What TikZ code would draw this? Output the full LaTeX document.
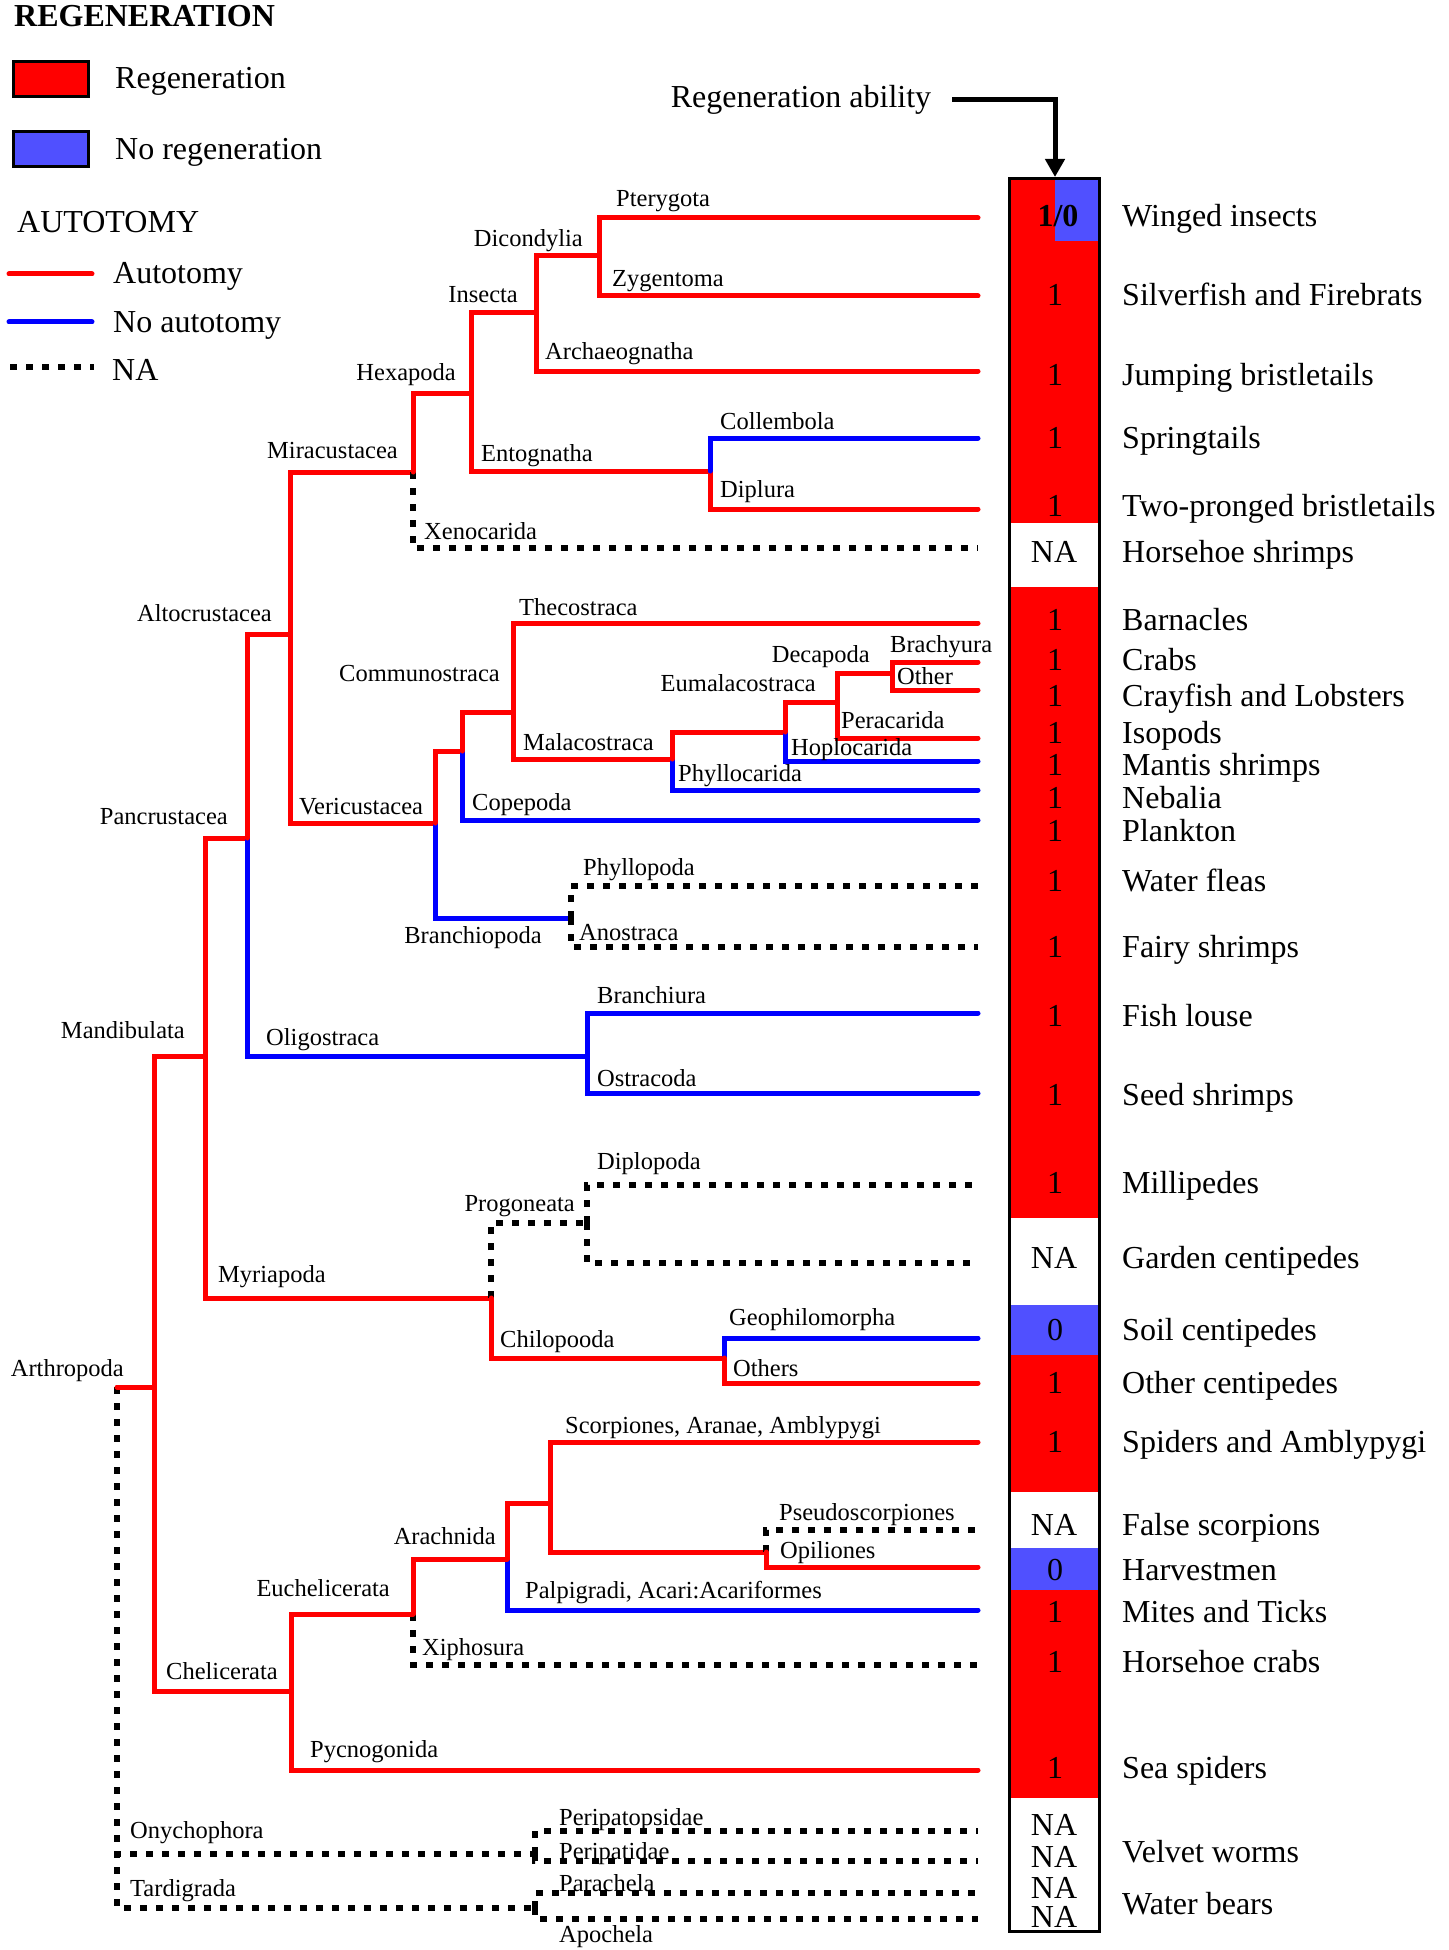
\documentclass[tikz,border=0pt]{standalone}
\usepackage{fontspec}
\setmainfont{Liberation Serif}
\usepackage{tikz}
\usetikzlibrary{arrows.meta}
\definecolor{autred}{RGB}{255,0,0}
\definecolor{autblue}{RGB}{0,0,255}
\definecolor{regblue}{RGB}{80,80,255}
\tikzstyle{redbr}=[draw=autred,line width=5pt,line cap=round]
\tikzstyle{bluebr}=[draw=autblue,line width=5pt,line cap=round]
\tikzstyle{nabr}=[draw=black,line width=5.5pt,dash pattern=on 7pt off 9pt]
\tikzstyle{taxon}=[inner sep=0pt,font=\fontsize{24.5}{29}\selectfont]
\tikzstyle{common}=[inner sep=0pt,anchor=base west,font=\fontsize{32}{38}\selectfont]
\tikzstyle{val}=[inner sep=0pt,anchor=base,font=\fontsize{32}{38}\selectfont]
\tikzstyle{legbox}=[draw=black,line width=3pt,minimum width=75pt,minimum height=35pt,inner sep=0pt]

\begin{document}
\begin{tikzpicture}[x=1pt,y=-1pt]
\useasboundingbox (0,0) rectangle (1448,1950);

% legend
\node[inner sep=0pt,anchor=base west,font=\fontsize{32}{38}\selectfont\bfseries] (regtitle) at (14,27) {REGENERATION};
\node[legbox,fill=autred] (regbox) at (51,79) {};
\node[common] (regtxt) at (115,89) {Regeneration};
\node[legbox,fill=regblue] (noregbox) at (51,149.5) {};
\node[common] (noregtxt) at (115,160) {No regeneration};
\node[common] (auttitle) at (17,233) {AUTOTOMY};
\coordinate (autA) at (9,274); \coordinate (autB) at (92,274);
\coordinate (noautA) at (9,322); \coordinate (noautB) at (92,322);
\coordinate (naA) at (10,367); \coordinate (naB) at (94,367);
\draw[redbr] (autA) -- (autB);
\draw[bluebr] (noautA) -- (noautB);
\draw[nabr] (naA) -- (naB);
\node[common] (auttxt) at (113,284) {Autotomy};
\node[common] (noauttxt) at (113,332) {No autotomy};
\node[common] (natxt) at (112,380) {NA};

% regeneration column
\fill[autred] (1009,178) rectangle (1100,523);
\fill[regblue] (1055,178) rectangle (1100,241);
\fill[autred] (1009,587) rectangle (1100,1218);
\fill[regblue] (1009,1305) rectangle (1100,1355);
\fill[autred] (1009,1355) rectangle (1100,1492);
\fill[regblue] (1009,1548) rectangle (1100,1590);
\fill[autred] (1009,1590) rectangle (1100,1798);
\draw[line width=3pt] (1009.5,178.5) rectangle (1099.5,1931.5);

\node[common,anchor=base] (ability) at (801,108) {Regeneration ability};
\coordinate (arrstart) at (952,100);
\coordinate (coltop) at (1055,177);
\draw[line width=5pt,-{Triangle[length=18pt,width=19pt]}] (arrstart) -| (coltop);

% tree junctions
\coordinate (root) at (117,1387);
\coordinate (arth) at (154,1387);
\coordinate (mand) at (205,1056);
\coordinate (panc) at (247,838);
\coordinate (alto) at (290,634);
\coordinate (mira) at (413,472);
\coordinate (hexa) at (471,393);
\coordinate (insc) at (536,313);
\coordinate (dico) at (599,256);
\coordinate (ento) at (710,471);
\coordinate (veri) at (435,823);
\coordinate (comm) at (462,751);
\coordinate (thmal) at (513,712);
\coordinate (mala) at (672,759);
\coordinate (euma) at (785,732);
\coordinate (deca) at (837,702);
\coordinate (brac) at (892,673);
\coordinate (brpo) at (571,918);
\coordinate (olig) at (587,1056);
\coordinate (myri) at (491,1298);
\coordinate (prog) at (587,1223);
\coordinate (chil) at (724,1358);
\coordinate (chel) at (291,1691);
\coordinate (euch) at (413,1614);
\coordinate (arac) at (507,1559);
\coordinate (scop) at (550,1503);
\coordinate (opgr) at (766,1552);
\coordinate (onyc) at (535,1854);
\coordinate (tard) at (535,1908);

% tree leaves
\coordinate (pter) at (978,218);
\coordinate (zyge) at (978,296);
\coordinate (arch) at (978,371);
\coordinate (coll) at (978,438);
\coordinate (dipl) at (978,509);
\coordinate (xeno) at (978,548);
\coordinate (theco) at (978,623);
\coordinate (brach) at (978,662);
\coordinate (other) at (978,690);
\coordinate (pera) at (978,738);
\coordinate (hoplo) at (978,761);
\coordinate (phylc) at (978,790);
\coordinate (cope) at (978,820);
\coordinate (phylp) at (978,886);
\coordinate (anos) at (978,947);
\coordinate (bchiu) at (978,1013);
\coordinate (ostr) at (978,1093);
\coordinate (diplo) at (978,1185);
\coordinate (diplob) at (978,1263);
\coordinate (geoph) at (978,1338);
\coordinate (others) at (978,1383);
\coordinate (scorp) at (978,1442);
\coordinate (pseu) at (978,1530);
\coordinate (opil) at (978,1567);
\coordinate (palp) at (978,1610);
\coordinate (xiph) at (978,1665);
\coordinate (pycn) at (978,1770);
\coordinate (peri1) at (978,1831);
\coordinate (peri2) at (978,1861);
\coordinate (para) at (978,1893);
\coordinate (apoc) at (978,1919);

% branches
\draw[nabr] (root) |- (onyc);
\draw[nabr] (root) |- (tard);
\draw[redbr] (root) -- (arth);
\draw[redbr] (arth) |- (mand);
\draw[redbr] (arth) |- (chel);
\draw[redbr] (mand) |- (panc);
\draw[redbr] (mand) |- (myri);
\draw[bluebr] (panc) |- (olig);
\draw[redbr] (panc) |- (alto);
\draw[redbr] (alto) |- (mira);
\draw[redbr] (alto) |- (veri);
\draw[nabr] (mira) |- (xeno);
\draw[redbr] (mira) |- (hexa);
\draw[redbr] (hexa) |- (insc);
\draw[redbr] (hexa) |- (ento);
\draw[redbr] (insc) |- (dico);
\draw[redbr] (insc) |- (arch);
\draw[redbr] (dico) |- (pter);
\draw[redbr] (dico) |- (zyge);
\draw[redbr] (ento) |- (dipl);
\draw[bluebr] (ento) |- (coll);
\draw[bluebr] (veri) |- (brpo);
\draw[redbr] (veri) |- (comm);
\draw[bluebr] (comm) |- (cope);
\draw[redbr] (comm) |- (thmal);
\draw[redbr] (thmal) |- (theco);
\draw[redbr] (thmal) |- (mala);
\draw[bluebr] (mala) |- (phylc);
\draw[redbr] (mala) |- (euma);
\draw[bluebr] (euma) |- (hoplo);
\draw[redbr] (euma) |- (deca);
\draw[redbr] (deca) |- (brac);
\draw[redbr] (deca) |- (pera);
\draw[redbr] (brac) |- (brach);
\draw[redbr] (brac) |- (other);
\draw[nabr] (brpo) |- (phylp);
\draw[nabr] (brpo) |- (anos);
\draw[bluebr] (olig) |- (bchiu);
\draw[bluebr] (olig) |- (ostr);
\draw[nabr] (myri) |- (prog);
\draw[redbr] (myri) |- (chil);
\draw[nabr] (prog) |- (diplo);
\draw[nabr] (prog) |- (diplob);
\draw[bluebr] (chil) |- (geoph);
\draw[redbr] (chil) |- (others);
\draw[redbr] (chel) |- (pycn);
\draw[nabr] (euch) |- (xiph);
\draw[redbr] (chel) |- (euch);
\draw[bluebr] (arac) |- (palp);
\draw[redbr] (euch) |- (arac);
\draw[redbr] (arac) |- (scop);
\draw[redbr] (scop) |- (scorp);
\draw[redbr] (scop) |- (opgr);
\draw[nabr] (opgr) |- (pseu);
\draw[redbr] (opgr) |- (opil);
\draw[nabr] (onyc) |- (peri1);
\draw[nabr] (onyc) |- (peri2);
\draw[nabr] (tard) |- (para);
\draw[nabr] (tard) |- (apoc);

% clade labels
\node[taxon,anchor=base west] (tpter) at (616,207) {Pterygota};
\node[taxon,anchor=base east] (tdico) at (583,247) {Dicondylia};
\node[taxon,anchor=base west] (tzyge) at (612,287) {Zygentoma};
\node[taxon,anchor=base east] (tinsc) at (518,303) {Insecta};
\node[taxon,anchor=base west] (tarch) at (545,359) {Archaeognatha};
\node[taxon,anchor=base east] (thexa) at (456,380) {Hexapoda};
\node[taxon,anchor=base west] (tcoll) at (720,429) {Collembola};
\node[taxon,anchor=base east] (tmira) at (398,458) {Miracustacea};
\node[taxon,anchor=base west] (tento) at (481,461) {Entognatha};
\node[taxon,anchor=base west] (tdipl) at (720,497) {Diplura};
\node[taxon,anchor=base west] (txeno) at (424,539) {Xenocarida};
\node[taxon,anchor=base east] (talto) at (272,621) {Altocrustacea};
\node[taxon,anchor=base west] (ttheco) at (519,615) {Thecostraca};
\node[taxon,anchor=base west] (tbrach) at (890,652) {Brachyura};
\node[taxon,anchor=base east] (tdeca) at (870,662) {Decapoda};
\node[taxon,anchor=base east] (tcomm) at (500,681) {Communostraca};
\node[taxon,anchor=base west] (tother) at (897,684) {Other};
\node[taxon,anchor=base east] (teuma) at (816,691) {Eumalacostraca};
\node[taxon,anchor=base west] (tpera) at (841,728) {Peracarida};
\node[taxon,anchor=base west] (tmala) at (523,750) {Malacostraca};
\node[taxon,anchor=base west] (thoplo) at (791,755) {Hoplocarida};
\node[taxon,anchor=base west] (tphylc) at (678,781) {Phyllocarida};
\node[taxon,anchor=base west] (tcope) at (472,810) {Copepoda};
\node[taxon,anchor=base west] (tveri) at (299,814) {Vericustacea};
\node[taxon,anchor=base east] (tpanc) at (228,824) {Pancrustacea};
\node[taxon,anchor=base west] (tphylp) at (583,875) {Phyllopoda};
\node[taxon,anchor=base west] (tanos) at (579,940) {Anostraca};
\node[taxon,anchor=base east] (tbrpo) at (542,943) {Branchiopoda};
\node[taxon,anchor=base west] (tbchiu) at (597,1003) {Branchiura};
\node[taxon,anchor=base east] (tmand) at (185,1038) {Mandibulata};
\node[taxon,anchor=base west] (tolig) at (266,1045) {Oligostraca};
\node[taxon,anchor=base west] (tostr) at (597,1086) {Ostracoda};
\node[taxon,anchor=base west] (tdiplo) at (597,1169) {Diplopoda};
\node[taxon,anchor=base east] (tprog) at (575,1211) {Progoneata};
\node[taxon,anchor=base west] (tmyri) at (218,1282) {Myriapoda};
\node[taxon,anchor=base west] (tgeoph) at (729,1325) {Geophilomorpha};
\node[taxon,anchor=base west] (tchil) at (500,1347) {Chilopooda};
\node[taxon,anchor=base east] (tarth) at (124,1376) {Arthropoda};
\node[taxon,anchor=base west] (tothers) at (733,1376) {Others};
\node[taxon,anchor=base west] (tscorp) at (565,1433) {Scorpiones, Aranae, Amblypygi};
\node[taxon,anchor=base west] (tpseu) at (779,1520) {Pseudoscorpiones};
\node[taxon,anchor=base east] (tarac) at (496,1544) {Arachnida};
\node[taxon,anchor=base west] (topil) at (780,1558) {Opiliones};
\node[taxon,anchor=base east] (teuch) at (390,1596) {Euchelicerata};
\node[taxon,anchor=base west] (tpalp) at (525,1598) {Palpigradi, Acari:Acariformes};
\node[taxon,anchor=base west] (txiph) at (422,1655) {Xiphosura};
\node[taxon,anchor=base west] (tchel) at (166,1679) {Chelicerata};
\node[taxon,anchor=base west] (tpycn) at (310,1757) {Pycnogonida};
\node[taxon,anchor=base west] (tperi1) at (559,1825) {Peripatopsidae};
\node[taxon,anchor=base west] (tonyc) at (130,1838) {Onychophora};
\node[taxon,anchor=base west] (tperi2) at (559,1859) {Peripatidae};
\node[taxon,anchor=base west] (tpara) at (559,1891) {Parachela};
\node[taxon,anchor=base west] (ttard) at (130,1896) {Tardigrada};
\node[taxon,anchor=base west] (tapoc) at (559,1942) {Apochela};

% values
\node[val,font=\fontsize{32}{38}\selectfont\bfseries] (v1) at (1058,227) {1/0};
\node[val] (v2) at (1055,306) {1};
\node[val] (v3) at (1055,385) {1};
\node[val] (v4) at (1055,448) {1};
\node[val] (v5) at (1055,516) {1};
\node[val] (v6) at (1054,562) {NA};
\node[val] (v7) at (1055,630) {1};
\node[val] (v8) at (1055,670) {1};
\node[val] (v9) at (1055,706) {1};
\node[val] (v10) at (1055,743) {1};
\node[val] (v11) at (1055,775) {1};
\node[val] (v12) at (1055,808) {1};
\node[val] (v13) at (1055,841) {1};
\node[val] (v14) at (1055,891) {1};
\node[val] (v15) at (1055,957) {1};
\node[val] (v16) at (1055,1026) {1};
\node[val] (v17) at (1055,1105) {1};
\node[val] (v18) at (1055,1193) {1};
\node[val] (v19) at (1054,1268) {NA};
\node[val] (v20) at (1055,1340) {0};
\node[val] (v21) at (1055,1393) {1};
\node[val] (v22) at (1055,1452) {1};
\node[val] (v23) at (1054,1535) {NA};
\node[val] (v24) at (1055,1580) {0};
\node[val] (v25) at (1055,1622) {1};
\node[val] (v26) at (1055,1672) {1};
\node[val] (v27) at (1055,1778) {1};
\node[val] (v28) at (1054,1835) {NA};
\node[val] (v29) at (1054,1867) {NA};
\node[val] (v30) at (1054,1898) {NA};
\node[val] (v31) at (1054,1927) {NA};

% common names
\node[common] (c1) at (1122,227) {Winged insects};
\node[common] (c2) at (1122,306) {Silverfish and Firebrats};
\node[common] (c3) at (1122,385) {Jumping bristletails};
\node[common] (c4) at (1122,448) {Springtails};
\node[common] (c5) at (1122,516) {Two-pronged bristletails};
\node[common] (c6) at (1122,562) {Horsehoe shrimps};
\node[common] (c7) at (1122,630) {Barnacles};
\node[common] (c8) at (1122,670) {Crabs};
\node[common] (c9) at (1122,706) {Crayfish and Lobsters};
\node[common] (c10) at (1122,743) {Isopods};
\node[common] (c11) at (1122,775) {Mantis shrimps};
\node[common] (c12) at (1122,808) {Nebalia};
\node[common] (c13) at (1122,841) {Plankton};
\node[common] (c14) at (1122,891) {Water fleas};
\node[common] (c15) at (1122,957) {Fairy shrimps};
\node[common] (c16) at (1122,1026) {Fish louse};
\node[common] (c17) at (1122,1105) {Seed shrimps};
\node[common] (c18) at (1122,1193) {Millipedes};
\node[common] (c19) at (1122,1268) {Garden centipedes};
\node[common] (c20) at (1122,1340) {Soil centipedes};
\node[common] (c21) at (1122,1393) {Other centipedes};
\node[common] (c22) at (1122,1452) {Spiders and Amblypygi};
\node[common] (c23) at (1122,1535) {False scorpions};
\node[common] (c24) at (1122,1580) {Harvestmen};
\node[common] (c25) at (1122,1622) {Mites and Ticks};
\node[common] (c26) at (1122,1672) {Horsehoe crabs};
\node[common] (c27) at (1122,1778) {Sea spiders};
\node[common] (c28) at (1122,1862) {Velvet worms};
\node[common] (c29) at (1122,1914) {Water bears};
\end{tikzpicture}
\end{document}
